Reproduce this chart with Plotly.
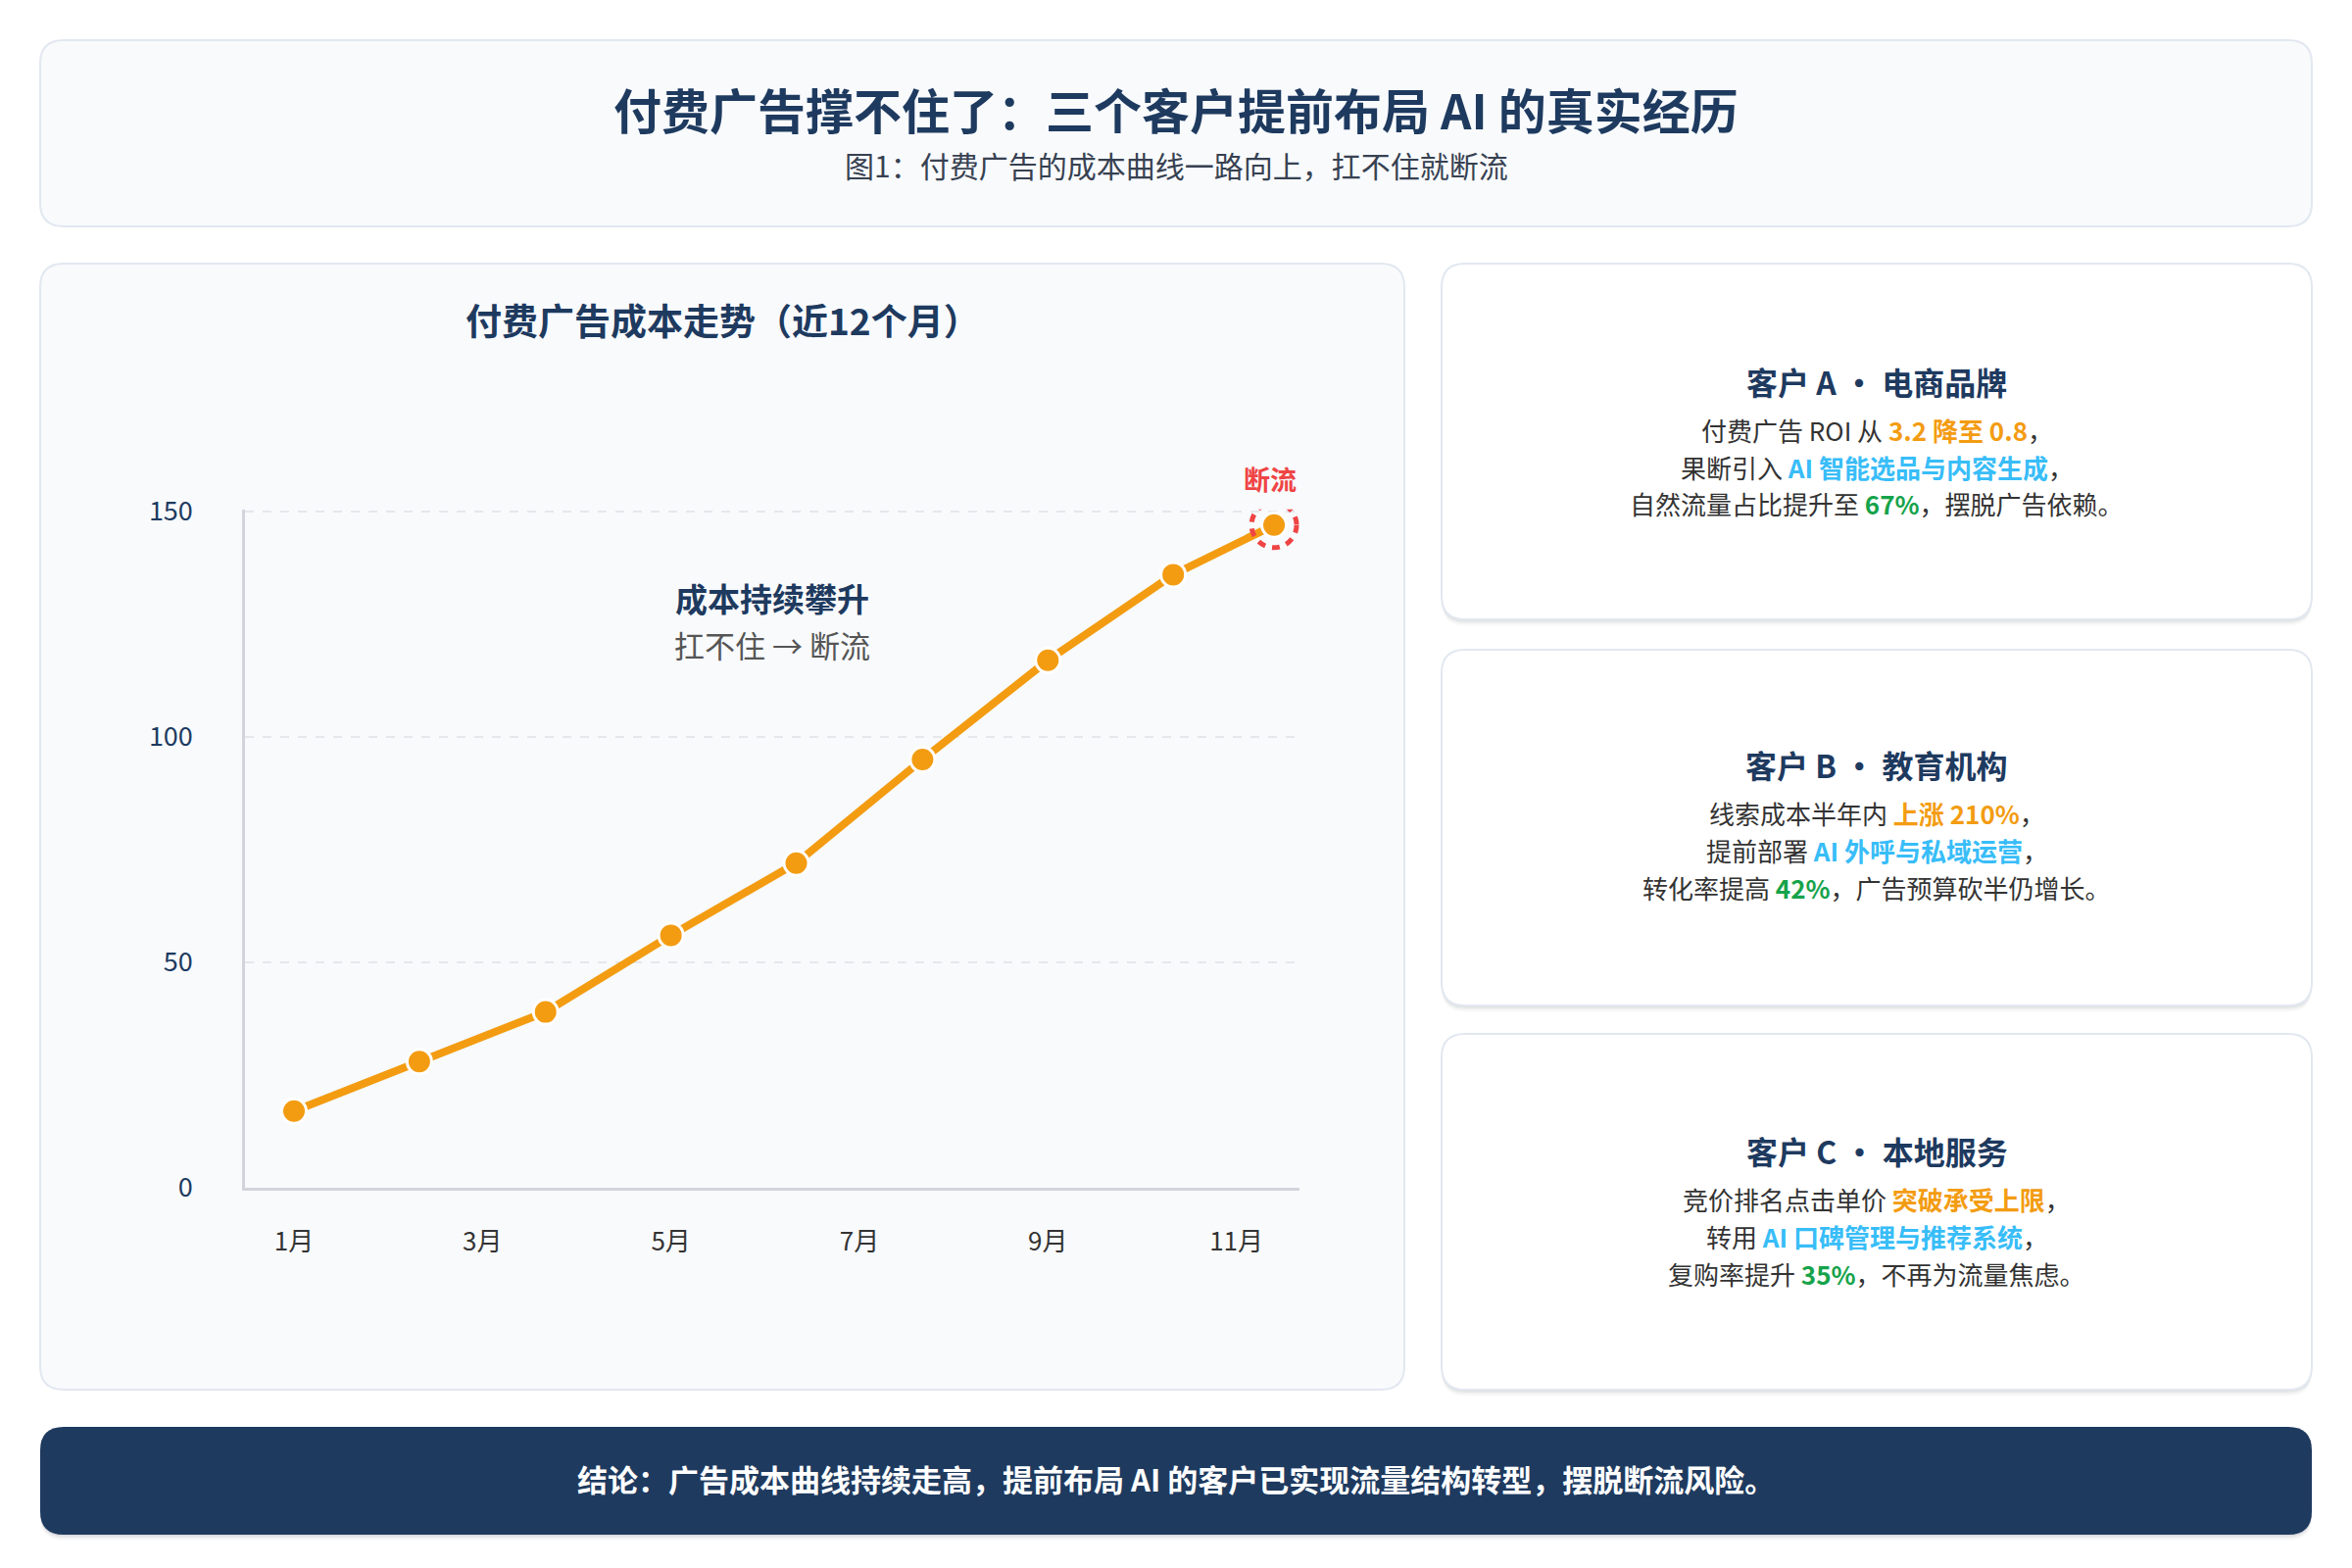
import plotly.graph_objects as go

W, H = 2400, 1600
OFF = 8  # the page body margin shifts the figure by this many pixels
FONT = "Noto Sans CJK SC"
NAVY = "#1e3a5f"
ORANGE = "#f39c12"
BLUE = "#38bdf8"
GREEN = "#16a34a"
RED = "#ef4444"
TEXT = "#333333"

# chart data
months = [1, 2.33, 3.67, 5, 6.33, 7.67, 9, 10.33, 11.4]
cost = [17, 28, 39, 56, 72, 95, 117, 136, 147]
month_ticks = [1, 3, 5, 7, 9, 11]
month_labels = ["1月", "3月", "5月", "7月", "9月", "11月"]
cost_ticks = [0, 50, 100, 150]

title = "付费广告撑不住了：三个客户提前布局 AI 的真实经历"
subtitle = "图1：付费广告的成本曲线一路向上，扛不住就断流"
chart_title = "付费广告成本走势（近12个月）"
note_main = "成本持续攀升"
note_sub = "扛不住 → 断流"
break_label = "断流"
conclusion = "结论：广告成本曲线持续走高，提前布局 AI 的客户已实现流量结构转型，摆脱断流风险。"

card_titles = ["客户 A · 电商品牌", "客户 B · 教育机构", "客户 C · 本地服务"]
card_lines = [
    [[("付费广告 ROI 从 ", None), ("3.2 降至 0.8", ORANGE), ("，", None)],
     [("果断引入 ", None), ("AI 智能选品与内容生成", BLUE), ("，", None)],
     [("自然流量占比提升至 ", None), ("67%", GREEN), ("，摆脱广告依赖。", None)]],
    [[("线索成本半年内 ", None), ("上涨 210%", ORANGE), ("，", None)],
     [("提前部署 ", None), ("AI 外呼与私域运营", BLUE), ("，", None)],
     [("转化率提高 ", None), ("42%", GREEN), ("，广告预算砍半仍增长。", None)]],
    [[("竞价排名点击单价 ", None), ("突破承受上限", ORANGE), ("，", None)],
     [("转用 ", None), ("AI 口碑管理与推荐系统", BLUE), ("，", None)],
     [("复购率提升 ", None), ("35%", GREEN), ("，不再为流量焦虑。", None)]],
]


def px(x):
    return (x - OFF) / W


def py(y):
    return 1 - (y - OFF) / H


def rounded(x0, y0, x1, y1, r, fill, line_color=None, line_width=0):
    a, b, c, d = px(x0), py(y0), px(x1), py(y1)
    rx, ry = r / W, r / H
    path = (f"M{a+rx},{b} L{c-rx},{b} Q{c},{b} {c},{b-ry} "
            f"L{c},{d+ry} Q{c},{d} {c-rx},{d} L{a+rx},{d} "
            f"Q{a},{d} {a},{d+ry} L{a},{b-ry} Q{a},{b} {a+rx},{b} Z")
    return dict(type="path", xref="paper", yref="paper", path=path,
                fillcolor=fill, layer="below",
                line=dict(color=line_color or fill, width=line_width))


def label(x, y, text, size, color=TEXT, bold=False):
    if bold:
        text = f"<b>{text}</b>"
    return dict(x=px(x), y=py(y), xref="paper", yref="paper", text=text,
                showarrow=False, xanchor="center", yanchor="middle",
                font=dict(family=FONT, size=size, color=color))


shapes = []
annotations = []

# header
shapes.append(rounded(41, 41, 2359, 231, 24, "#f8fafc", "#e2e8f0", 2))
annotations.append(label(1200, 111, title, 49, NAVY, bold=True))
annotations.append(label(1200, 168, subtitle, 30, "#374151"))

# chart panel
shapes.append(rounded(41, 269, 1433, 1418, 24, "#f8fafc", "#e2e8f0", 2))
annotations.append(label(737, 326, chart_title, 37, NAVY, bold=True))
annotations.append(label(788, 610, note_main, 33, NAVY, bold=True))
annotations.append(label(788, 657, note_sub, 31, "#555555"))

# client cards
card_tops = [269, 663, 1055]
title_gap = [120, 117, 119]
for top, gap, head, lines in zip(card_tops, title_gap, card_titles, card_lines):
    for k in range(1, 5):
        shapes.append(rounded(1471, top + k, 2359, 1 + top + 363 + k * 1.5, 24,
                              f"rgba(15,23,42,{0.012 * (5 - k)})"))
    shapes.append(rounded(1471, top, 2359, top + 363, 24, "#ffffff", "#e2e8f0", 2))
    annotations.append(label(1915, top + gap, head, 32, NAVY, bold=True))
    for i, segs in enumerate(lines):
        parts = []
        for txt, col in segs:
            if col:
                parts.append(f"<span style='color:{col}'><b>{txt}</b></span>")
            else:
                parts.append(txt)
        annotations.append(label(1915, top + gap + 49 + 38 * i, "".join(parts), 26, TEXT))

# footer
for k in range(1, 5):
    shapes.append(rounded(41, 1456 + k, 2359, 1566 + k * 1.5, 24,
                          f"rgba(15,23,42,{0.015 * (5 - k)})"))
shapes.append(rounded(41, 1456, 2359, 1566, 24, NAVY))
annotations.append(label(1200, 1508, conclusion, 31, "#ffffff", bold=True))

# break-point ring and label
shapes.append(dict(type="circle", xref="x", yref="y", xsizemode="pixel", ysizemode="pixel",
                   xanchor=months[-1], yanchor=cost[-1], x0=-23, x1=23, y0=-23, y1=23,
                   line=dict(color=RED, width=5, dash="8px,7px"), layer="above"))
annotations.append(dict(x=months[-1], y=cost[-1], xref="x", yref="y", text=f"<b>{break_label}</b>",
                        showarrow=False, yshift=47, xshift=-4,
                        font=dict(family=FONT, size=27, color=RED)))

fig = go.Figure()
fig.add_trace(go.Scatter(
    x=months, y=cost, mode="lines+markers", cliponaxis=False,
    line=dict(color=ORANGE, width=8),
    marker=dict(size=25, color=ORANGE, line=dict(color="#ffffff", width=3)),
    hoverinfo="skip", showlegend=False))

fig.update_layout(
    width=W, height=H, autosize=False,
    margin=dict(l=0, r=0, t=0, b=0, pad=0, autoexpand=False),
    paper_bgcolor="#ffffff", plot_bgcolor="rgba(0,0,0,0)",
    font=dict(family=FONT, color=TEXT),
    shapes=shapes, annotations=annotations,
    xaxis=dict(domain=[px(250), px(1326)], range=[0.48, 11.67], automargin=False,
               tickvals=month_ticks, ticktext=month_labels,
               showgrid=False, zeroline=False, showline=True,
               linecolor="#d1d5db", linewidth=3, ticks="",
               ticklabelstandoff=30,
               tickfont=dict(family=FONT, size=26, color=TEXT)),
    yaxis=dict(domain=[py(1212), py(519.7)], range=[0, 150.5], automargin=False,
               tickvals=cost_ticks, showgrid=True, gridcolor="#e5e7eb",
               gridwidth=2, griddash="9px,9px", zeroline=False,
               showline=True, linecolor="#d1d5db", linewidth=2.5, ticks="",
               ticklabelstandoff=45,
               tickfont=dict(family=FONT, size=27, color=NAVY)),
)

fig.write_html("out.html")
